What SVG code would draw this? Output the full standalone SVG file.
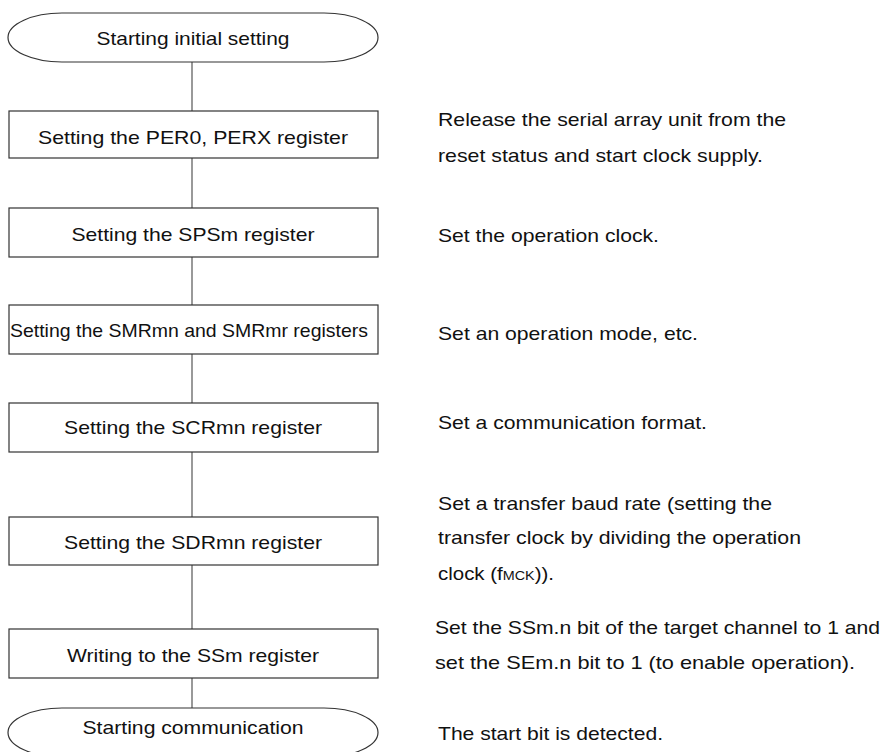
<svg xmlns="http://www.w3.org/2000/svg" width="885" height="752" viewBox="0 0 885 752">
<style>
.box{fill:#fff;stroke:#333;stroke-width:1.2}
.term{fill:#fff;stroke:#333;stroke-width:1.2}
.conn{stroke:#555;stroke-width:1.2;fill:none}
text{font-family:"Liberation Sans",Arial,sans-serif;font-size:18.5px;fill:#111}
.c{text-anchor:middle}
</style>
<rect width="885" height="752" fill="#fff"/>
<g id="connectors">
<line class="conn" x1="192" y1="62" x2="192" y2="111"/>
<line class="conn" x1="192" y1="158" x2="192" y2="208"/>
<line class="conn" x1="192" y1="257" x2="192" y2="305"/>
<line class="conn" x1="192" y1="354" x2="192" y2="403"/>
<line class="conn" x1="192" y1="452" x2="192" y2="517"/>
<line class="conn" x1="192" y1="565" x2="192" y2="629"/>
<line class="conn" x1="192" y1="678" x2="192" y2="708"/>
</g>
<g id="start">
<path class="term" d="M62,13 H324 A54,24.5 0 0 1 324,62 H62 A54,24.5 0 0 1 62,13 Z"/>
<text class="c" x="193" y="44.5" textLength="193" lengthAdjust="spacingAndGlyphs">Starting initial setting</text>
</g>
<g id="per">
<rect class="box" x="9" y="111" width="369" height="47"/>
<text class="c" x="193" y="144" textLength="310" lengthAdjust="spacingAndGlyphs">Setting the PER0, PERX register</text>
</g>
<g id="sps">
<rect class="box" x="9" y="208" width="369" height="49"/>
<text class="c" x="193" y="240.5" textLength="243" lengthAdjust="spacingAndGlyphs">Setting the SPSm register</text>
</g>
<g id="smr">
<rect class="box" x="9" y="305" width="369" height="49"/>
<text class="c" x="189" y="336.5" textLength="358" lengthAdjust="spacingAndGlyphs">Setting the SMRmn and SMRmr registers</text>
</g>
<g id="scr">
<rect class="box" x="9" y="403" width="369" height="49"/>
<text class="c" x="193" y="433.5" textLength="258" lengthAdjust="spacingAndGlyphs">Setting the SCRmn register</text>
</g>
<g id="sdr">
<rect class="box" x="9" y="517" width="369" height="48"/>
<text class="c" x="193" y="548.5" textLength="258" lengthAdjust="spacingAndGlyphs">Setting the SDRmn register</text>
</g>
<g id="ss">
<rect class="box" x="9" y="629" width="369" height="49"/>
<text class="c" x="193" y="661.5" textLength="252" lengthAdjust="spacingAndGlyphs">Writing to the SSm register</text>
</g>
<g id="end">
<path class="term" d="M62,708 H324 A54,24.5 0 0 1 324,757 H62 A54,24.5 0 0 1 62,708 Z"/>
<text class="c" x="193" y="733.5" textLength="221" lengthAdjust="spacingAndGlyphs">Starting communication</text>
</g>
<g id="notes">
<text x="438" y="126" textLength="348" lengthAdjust="spacingAndGlyphs">Release the serial array unit from the</text>
<text x="438" y="161.5" textLength="325" lengthAdjust="spacingAndGlyphs">reset status and start clock supply.</text>
<text x="438" y="241.5" textLength="221" lengthAdjust="spacingAndGlyphs">Set the operation clock.</text>
<text x="438" y="340" textLength="260" lengthAdjust="spacingAndGlyphs">Set an operation mode, etc.</text>
<text x="438" y="428.5" textLength="269" lengthAdjust="spacingAndGlyphs">Set a communication format.</text>
<text x="438" y="509.5" textLength="334" lengthAdjust="spacingAndGlyphs">Set a transfer baud rate (setting the</text>
<text x="438" y="544" textLength="363" lengthAdjust="spacingAndGlyphs">transfer clock by dividing the operation</text>
<text x="438" y="579.5" textLength="116" lengthAdjust="spacingAndGlyphs">clock (f<tspan font-size="13">MCK</tspan>)).</text>
<text x="435" y="634" textLength="445" lengthAdjust="spacingAndGlyphs">Set the SSm.n bit of the target channel to 1 and</text>
<text x="435" y="668.5" textLength="420" lengthAdjust="spacingAndGlyphs">set the SEm.n bit to 1 (to enable operation).</text>
<text x="438" y="740" textLength="225" lengthAdjust="spacingAndGlyphs">The start bit is detected.</text>
</g>
</svg>
